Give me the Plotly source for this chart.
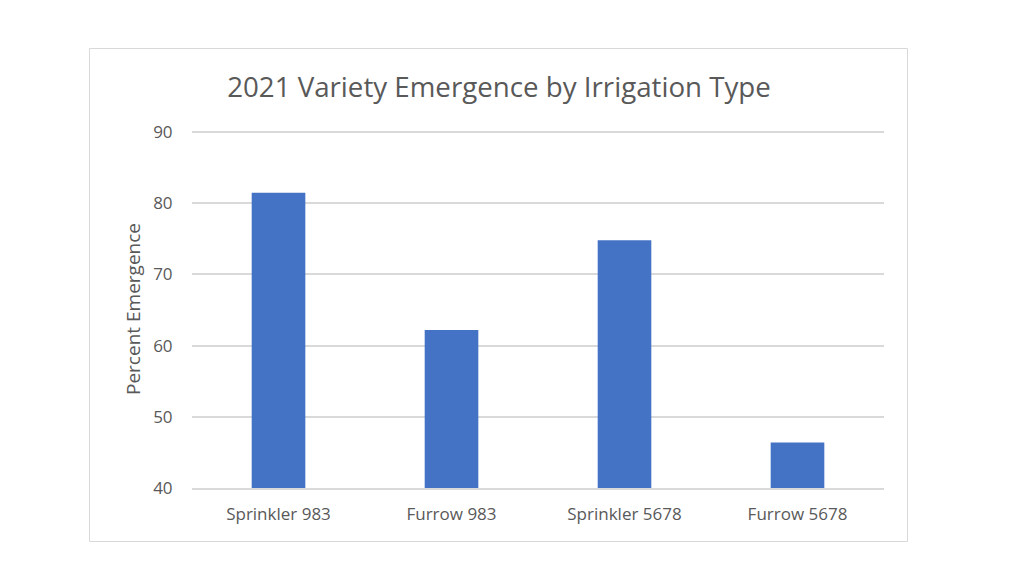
import plotly.graph_objects as go

categories = ["Sprinkler 983", "Furrow 983", "Sprinkler 5678", "Furrow 5678"]
emergence = [81.5, 62.2, 74.8, 46.4]
y_ticks = [40, 50, 60, 70, 80, 90]

W, H = 1024, 576
L, R, T, B = 192, 140, 130, 88
pw = W - L - R
ph = H - T - B

def px(x):
    return (x - L) / pw

def py(y):
    return (H - B - y) / ph

fig = go.Figure(go.Bar(
    x=categories, y=emergence, marker=dict(color="#4472C4", line=dict(width=0)),
    width=0.31,
))

fig.update_layout(
    width=W, height=H,
    margin=dict(l=L, r=R, t=T, b=B),
    paper_bgcolor="white", plot_bgcolor="white",
    font=dict(family="Open Sans", color="#595959"),
    title=dict(text="2021 Variety Emergence by Irrigation Type",
               xref="container", x=499 / W, xanchor="center",
               yref="container", y=1 - 87 / H, yanchor="middle",
               font=dict(size=27.7, color="#595959")),
    showlegend=False,
    shapes=[dict(type="rect", xref="paper", yref="paper",
                 x0=px(89.5), x1=px(907.5), y0=py(541.5), y1=py(48.5),
                 line=dict(color="#d9d9d9", width=1), fillcolor="rgba(0,0,0,0)",
                 layer="below")],
)
fig.update_xaxes(showgrid=False, showline=True, linecolor="#d9d9d9", linewidth=1.5,
                 tickfont=dict(size=17, color="#595959"), ticks="outside",
                 tickcolor="rgba(0,0,0,0)", ticklen=10)
fig.update_yaxes(range=[40, 90.3], tickvals=y_ticks, showgrid=True, gridcolor="#d9d9d9",
                 gridwidth=1.5, zeroline=False, showline=False,
                 tickfont=dict(size=17, color="#595959"), ticks="outside",
                 tickcolor="rgba(0,0,0,0)", ticklen=15,
                 title=dict(text="Percent Emergence", font=dict(size=19, color="#595959"),
                            standoff=7))

fig.write_html("out.html", post_script="document.body.style.margin='0';",
               config={"displayModeBar": False})
